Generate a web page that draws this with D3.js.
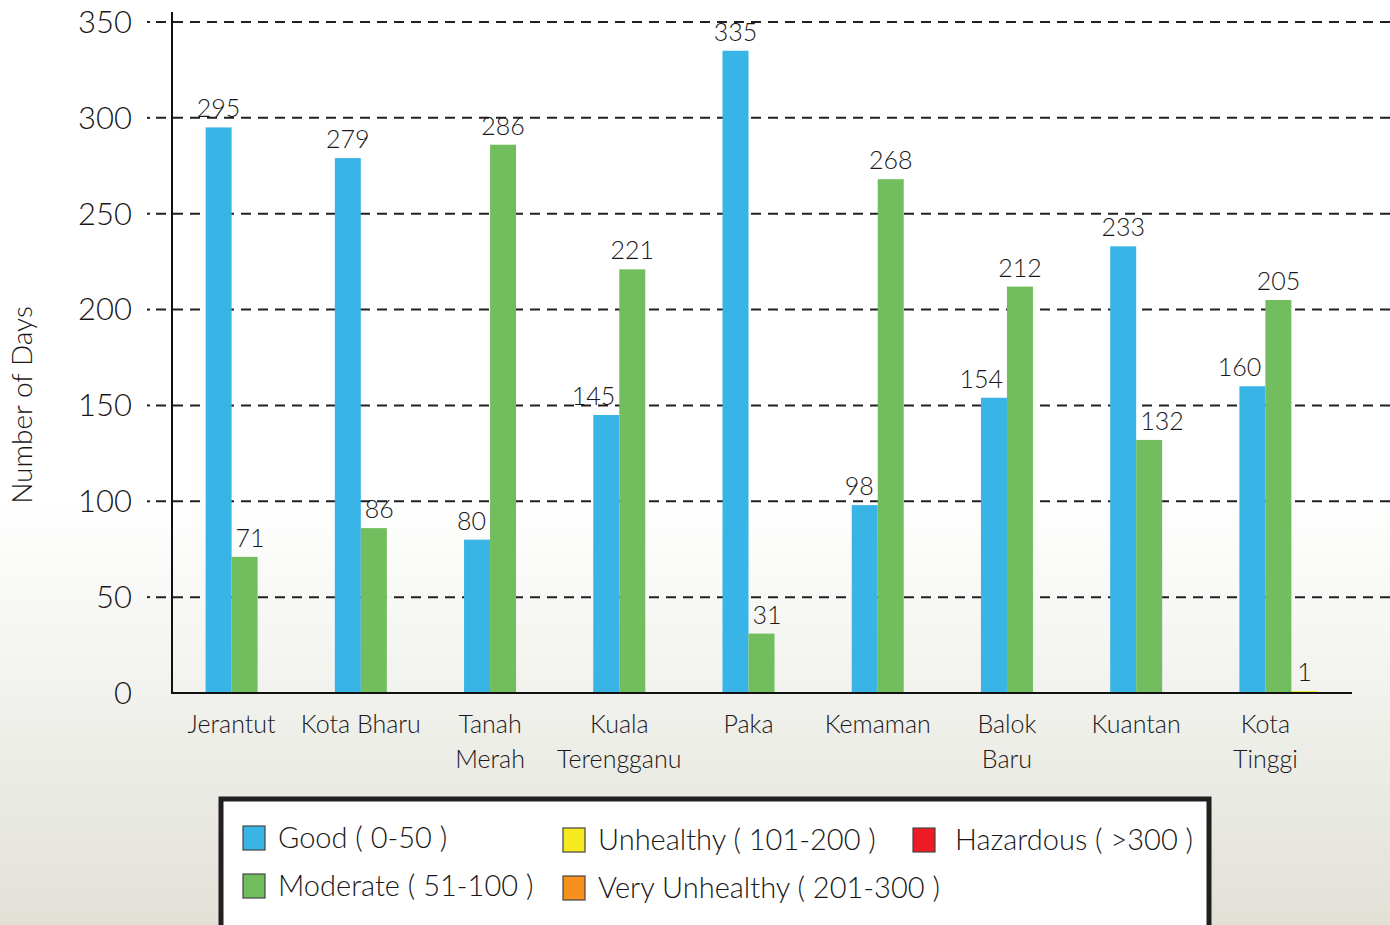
<!DOCTYPE html>
<html>
<head>
<meta charset="utf-8">
<script src="https://cdn.jsdelivr.net/npm/d3@7"></script>
<style>
  body { margin: 0; background: #fff; }
  text { font-family: "Lato", "Open Sans", sans-serif; font-weight: 300; fill: #1a1718; }
</style>
</head>
<body>
<div id="chart"></div>
<script>
// data
const stations = ["Jerantut", "Kota Bharu", "Tanah Merah", "Kuala Terengganu", "Paka",
                  "Kemaman", "Balok Baru", "Kuantan", "Kota Tinggi"];
const good      = [295, 279, 80, 145, 335, 98, 154, 233, 160];
const moderate  = [71, 86, 286, 221, 31, 268, 212, 132, 205];
const unhealthy = [0, 0, 0, 0, 0, 0, 0, 0, 1];
const yTicks = [0, 50, 100, 150, 200, 250, 300, 350];
const legendItems = ["Good ( 0-50 )", "Moderate ( 51-100 )", "Unhealthy ( 101-200 )",
                     "Very Unhealthy ( 201-300 )", "Hazardous ( >300 )"];
const colors = ["#38b4e6", "#72be5e", "#f4ea1f", "#f7901e", "#ed1c24"];

const W = 1390, H = 925;
const svg = d3.select("#chart").append("svg")
  .attr("width", W).attr("height", H);

// background fades to grey near the bottom
const grad = svg.append("defs").append("linearGradient")
  .attr("id", "bg").attr("x1", 0).attr("y1", 0).attr("x2", 0).attr("y2", 1);
grad.append("stop").attr("offset", "0.54").attr("stop-color", "#ffffff");
grad.append("stop").attr("offset", "1").attr("stop-color", "#e1e1d8");
svg.append("rect").attr("width", W).attr("height", H).attr("fill", "url(#bg)");

const x = d3.scaleBand().domain(stations).range([167, 1330]);
const barW = 26;
const y = d3.scaleLinear().domain([0, 350]).range([693, 22]);

// gridlines: a dot left of the axis, then dashes
const grid = svg.append("g").selectAll("g")
  .data(yTicks.filter(d => d > 0))
  .enter().append("g");
grid.append("line")
  .attr("x1", 147).attr("x2", 150)
  .attr("y1", d => y(d)).attr("y2", d => y(d))
  .attr("stroke", "#231f20").attr("stroke-width", 2);
grid.append("line")
  .attr("x1", 156).attr("x2", W)
  .attr("y1", d => y(d)).attr("y2", d => y(d))
  .attr("stroke", "#231f20").attr("stroke-width", 2)
  .attr("stroke-dasharray", "10,7");

// y tick labels
svg.append("g").selectAll("text")
  .data(yTicks)
  .enter().append("text")
    .attr("x", 132).attr("y", d => y(d))
    .attr("dy", "0.35em")
    .attr("text-anchor", "end")
    .style("font-size", "31px")
    .text(d => d);

svg.append("text")
  .attr("transform", "translate(32,405) rotate(-90)")
  .attr("text-anchor", "middle")
  .style("font-size", "28px")
  .text("Number of Days");

// bars
const series = [good, moderate, unhealthy];
series.forEach(function(vals, s) {
  svg.append("g").selectAll("rect")
    .data(stations.filter((d, i) => vals[i] > 0))
    .enter().append("rect")
      .attr("x", d => x(d) + x.bandwidth() / 2 - barW + s * barW)
      .attr("width", barW)
      .attr("y", d => y(vals[stations.indexOf(d)]))
      .attr("height", d => y(0) - y(vals[stations.indexOf(d)]))
      .attr("fill", colors[s]);
});

// value labels, nudged away from the taller neighbour
series.forEach(function(vals, s) {
  svg.append("g").selectAll("text")
    .data(stations.filter((d, i) => vals[i] > 0))
    .enter().append("text")
      .style("font-size", "25px")
      .attr("y", d => y(vals[stations.indexOf(d)]) - 10)
      .attr("x", function(d) {
        const i = stations.indexOf(d);
        const left = x(d) + x.bandwidth() / 2 - barW + s * barW;
        if (s == 0 && good[i] < moderate[i]) return left + barW - 4;
        if (s == 1 && moderate[i] < good[i]) return left + 4;
        return left + barW / 2;
      })
      .attr("text-anchor", function(d) {
        const i = stations.indexOf(d);
        if (s == 0 && good[i] < moderate[i]) return "end";
        if (s == 1 && moderate[i] < good[i]) return "start";
        return "middle";
      })
      .text(d => vals[stations.indexOf(d)]);
});

// axes lines
svg.append("line").attr("x1", 172).attr("x2", 172).attr("y1", 12).attr("y2", 694)
  .attr("stroke", "#111").attr("stroke-width", 2);
svg.append("line").attr("x1", 171).attr("x2", 1352).attr("y1", 693).attr("y2", 693)
  .attr("stroke", "#111").attr("stroke-width", 2);

// category labels (two lines where needed)
const cat = svg.append("g").selectAll("text")
  .data(stations)
  .enter().append("text")
    .attr("x", d => x(d) + x.bandwidth() / 2)
    .attr("y", 733)
    .attr("text-anchor", "middle")
    .style("font-size", "25px");
cat.each(function(d) {
  const words = d == "Kota Bharu" ? [d] : d.split(" ");
  const t = d3.select(this);
  words.forEach((w, k) => {
    t.append("tspan").attr("x", x(d) + x.bandwidth() / 2).attr("dy", k ? 35 : 0).text(w);
  });
});

// legend
svg.append("rect")
  .attr("x", 221).attr("y", 799).attr("width", 988).attr("height", 140)
  .attr("fill", "#fff").attr("stroke", "#231f20").attr("stroke-width", 5);

const legPos = [[243, 838], [243, 886], [563, 840], [563, 888], [913, 840]];
const leg = svg.append("g").selectAll("g")
  .data(legendItems)
  .enter().append("g")
    .attr("transform", (d, i) => `translate(${legPos[i][0]},${legPos[i][1]})`);
leg.append("rect")
  .attr("x", 0).attr("y", -12).attr("width", 22).attr("height", 24)
  .attr("fill", (d, i) => colors[i])
  .attr("stroke", "#444").attr("stroke-width", 1.2);
leg.append("text")
  .attr("x", (d, i) => i == 4 ? 42 : 35)
  .attr("dy", "0.35em")
  .style("font-size", "29px")
  .text(d => d);
</script>
</body>
</html>
